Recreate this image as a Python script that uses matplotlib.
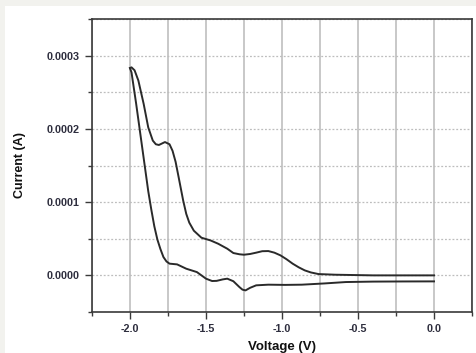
import numpy as np
import matplotlib
matplotlib.use("Agg")
import matplotlib.pyplot as plt
from matplotlib.ticker import MultipleLocator, FormatStrFormatter
from matplotlib.patches import Rectangle

plt.rcParams['font.family'] = ['Liberation Sans', 'DejaVu Sans']
plt.rcParams['axes.unicode_minus'] = False

# forward scan, 0 V -> -2 V
v_fwd = [0.0, -0.2, -0.4, -0.54, -0.65, -0.76, -0.81, -0.85, -0.89, -0.93, -0.97,
         -1.01, -1.05, -1.09, -1.13, -1.17, -1.21, -1.25, -1.28, -1.32, -1.36,
         -1.42, -1.47, -1.53, -1.58, -1.61, -1.63, -1.65, -1.68, -1.70, -1.72,
         -1.74, -1.77, -1.79, -1.81, -1.83, -1.85, -1.88, -1.91, -1.945, -1.97,
         -1.99, -2.0]
i_fwd = [0.0, 0.0, 0.0, 0.0000005, 0.0000009, 0.0000018, 0.000004, 0.0000068,
         0.000011, 0.000016, 0.000022, 0.0000273, 0.000031, 0.0000332, 0.000033,
         0.000031, 0.0000292, 0.0000282, 0.0000288, 0.0000305, 0.0000364,
         0.0000432, 0.0000477, 0.0000514, 0.000061, 0.000072, 0.000084, 0.000102,
         0.000134, 0.000155, 0.00017, 0.000179, 0.000182, 0.00018, 0.000178,
         0.000179, 0.000184, 0.000202, 0.000234, 0.000266, 0.00028, 0.000284,
         0.000283]

# reverse scan, -2 V -> 0 V
v_rev = [-2.0, -1.99, -1.98, -1.96, -1.94, -1.92, -1.90, -1.88, -1.86, -1.84,
         -1.82, -1.80, -1.78, -1.76, -1.74, -1.69, -1.63, -1.56, -1.50, -1.46,
         -1.43, -1.39, -1.36, -1.32, -1.28, -1.26, -1.24, -1.21, -1.17, -1.09,
         -0.98, -0.87, -0.72, -0.58, -0.4, -0.2, 0.0]
i_rev = [0.000283, 0.000277, 0.000263, 0.000235, 0.000205, 0.000175, 0.000145,
         0.000115, 0.00009, 0.000067, 0.000049, 0.000036, 0.000025, 0.000019,
         0.000016, 0.000015, 0.0000091, 0.0000045, -0.0000045, -0.0000077,
         -0.0000075, -0.0000055, -0.0000045, -0.000008, -0.000016, -0.0000195,
         -0.0000205, -0.000017, -0.0000136, -0.0000127, -0.000013, -0.0000127,
         -0.000011, -0.0000091, -0.0000085, -0.0000083, -0.0000082]

x_ticks = [-2.0, -1.5, -1.0, -0.5, 0.0]
y_ticks = [0.0, 0.0001, 0.0002, 0.0003]

fig = plt.figure(figsize=(4.76, 3.53), dpi=100, facecolor='#f2f2ee')
fig.patches.append(Rectangle((5 / 476, 0), 1, 1 - 6 / 353, transform=fig.transFigure,
                             facecolor='white', edgecolor='none', zorder=-1))
ax = fig.add_axes([92 / 476, 1 - 312 / 353, 380 / 476, 293 / 353])

ax.plot(v_fwd, i_fwd, color='#2a2a2a', lw=1.4, zorder=3)
ax.plot(v_rev, i_rev, color='#2a2a2a', lw=1.4, zorder=3)

ax.set_xlim(-2.25, 0.25)
ax.set_ylim(-0.00005, 0.00035)
ax.set_xticks(x_ticks)
ax.set_yticks(y_ticks)
ax.xaxis.set_minor_locator(MultipleLocator(0.25))
ax.yaxis.set_minor_locator(MultipleLocator(0.00005))
ax.xaxis.set_major_formatter(FormatStrFormatter('%.1f'))
ax.yaxis.set_major_formatter(FormatStrFormatter('%.4f'))

ax.grid(True, which='both', axis='x', color='#c4c4c4', lw=1.3, ls='-')
ax.grid(True, which='both', axis='y', color='#bdbdbd', lw=0.9, ls=(0, (1.5, 1.5)))
ax.set_axisbelow(True)

for s in ax.spines.values():
    s.set_color('#3a3a3a')
    s.set_linewidth(1.2)

ax.tick_params(which='both', direction='out', color='#3a3a3a', width=1.0,
               top=False, right=False)
ax.tick_params(which='major', length=5, labelsize=7.8, labelcolor='#2e2e3e', pad=4)
ax.tick_params(which='minor', length=3)
for lab in ax.get_xticklabels() + ax.get_yticklabels():
    lab.set_fontweight('bold')

fig.text(282 / 476, 1 - 347 / 353, 'Voltage (V)', fontsize=9.5, fontweight='bold',
         color='#111111', ha='center', va='center')
fig.text(20 / 476, 1 - 165 / 353, 'Current (A)', fontsize=9, fontweight='bold',
         color='#111111', ha='center', va='center', rotation=90)

fig.savefig('out.png', dpi=100, facecolor=fig.get_facecolor())
